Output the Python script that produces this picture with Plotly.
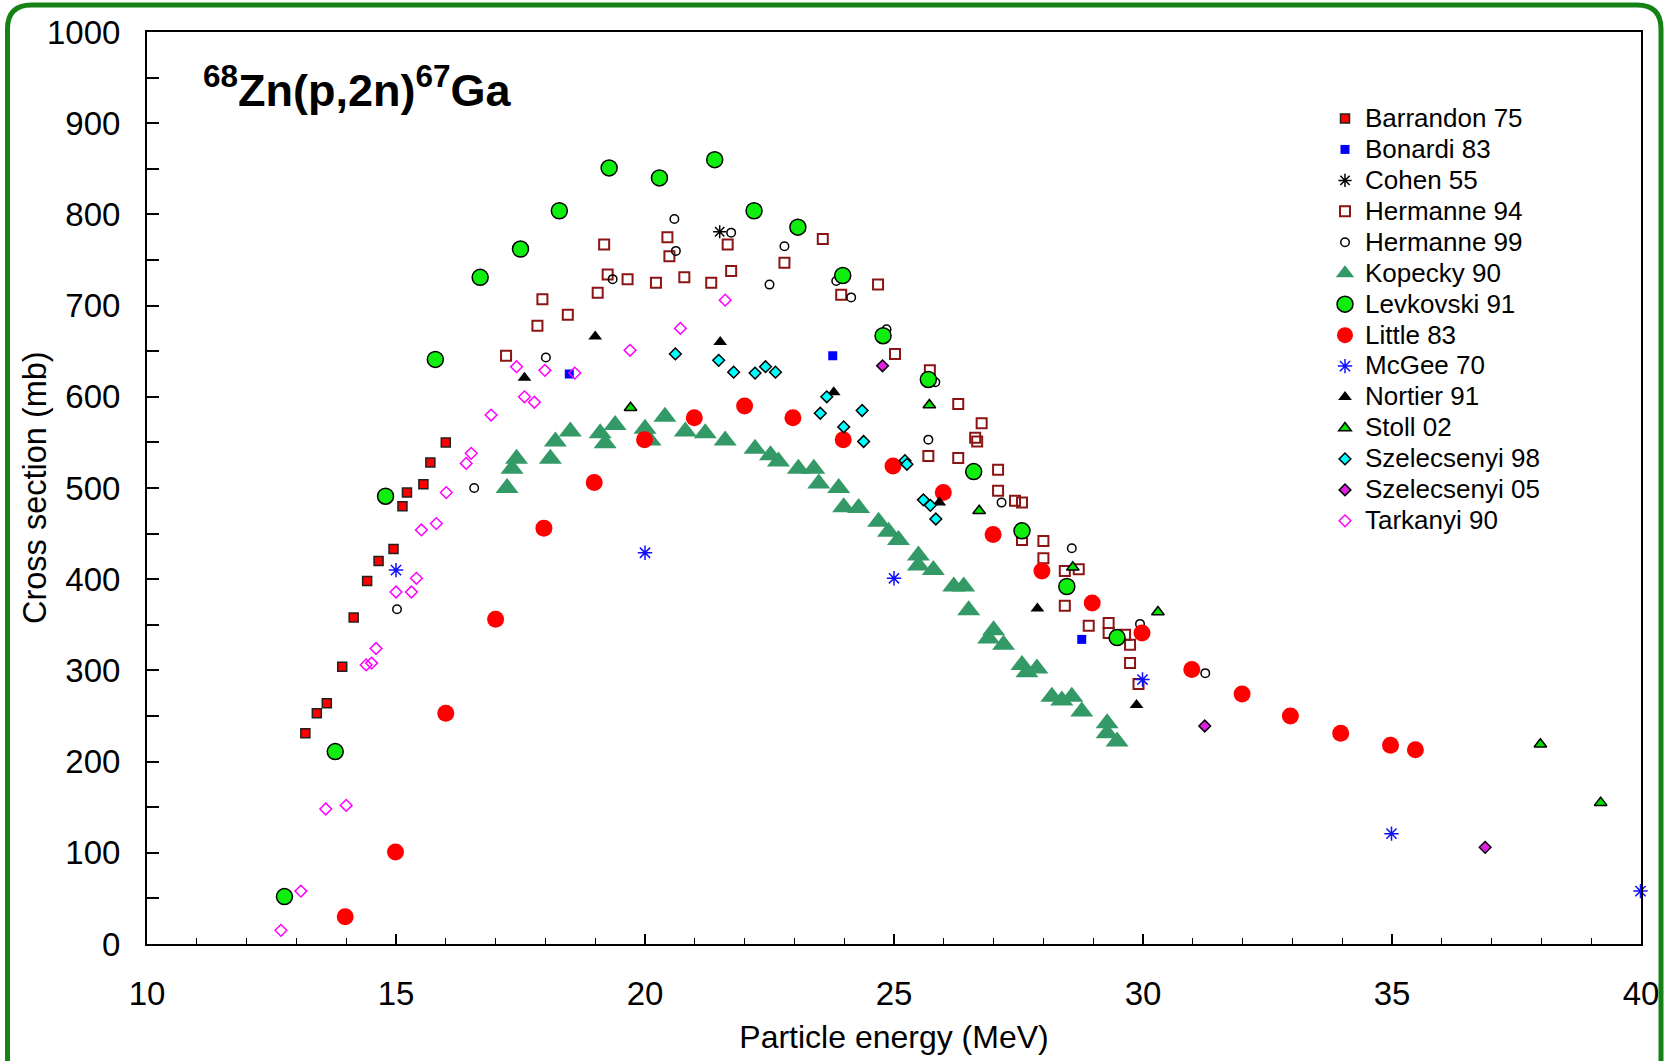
import plotly.graph_objects as go

# ---------------- data ----------------
barrandon_E = [13.18, 13.41, 13.61, 13.92, 14.15, 14.42, 14.65, 14.95, 15.13, 15.22, 15.55, 15.69, 16.0]
barrandon_xs = [231, 253, 264, 304, 358, 398, 420, 433, 480, 495, 504, 528, 550]

bonardi_E = [18.48, 23.77, 28.77]
bonardi_xs = [625, 645, 334]

cohen_E = [21.5]
cohen_xs = [781]

hermanne94_E = [17.21, 17.84, 17.94, 18.45, 19.05, 19.18, 19.25, 19.65, 20.22, 20.45, 20.49, 20.79,
                21.33, 21.66, 21.73, 22.80, 23.57, 23.94, 24.68, 25.02, 25.69, 25.72, 26.29, 26.29,
                26.63, 26.67, 26.76, 27.09, 27.09, 27.43, 27.57, 27.57, 28.0, 28.0, 28.43, 28.43,
                28.71, 28.91, 29.31, 29.31, 29.64, 29.74, 29.74, 29.91]
hermanne94_xs = [645, 678, 707, 690, 714, 767, 734, 729, 725, 775, 754, 731,
                 725, 767, 738, 747, 773, 712, 723, 647, 535, 629, 592, 533,
                 555, 551, 571, 520, 497, 486, 484, 443, 442, 423, 409, 371,
                 411, 349, 352, 341, 339, 328, 308, 285]

hermanne99_E = [15.02, 16.57, 18.01, 19.35, 20.59, 20.62, 21.73, 22.5, 22.8, 23.84, 24.14, 24.85,
                25.69, 25.83, 27.16, 28.57, 29.94, 31.25]
hermanne99_xs = [367, 500, 643, 729, 795, 760, 780, 723, 765, 727, 709, 674,
                 553, 616, 484, 434, 351, 297]

kopecky_E = [17.23, 17.33, 17.42, 18.1, 18.2, 18.5, 19.1, 19.2, 19.4, 20.0, 20.1, 20.4, 20.81, 21.21,
             21.61, 22.21, 22.52, 22.68, 23.08, 23.39, 23.49, 23.89, 23.99, 24.29, 24.69, 24.89,
             25.09, 25.49, 25.49, 25.79, 26.2, 26.4, 26.5, 26.9, 27.0, 27.2, 27.57, 27.67, 27.87,
             28.17, 28.37, 28.57, 28.77, 29.28, 29.28, 29.48]
kopecky_xs = [500, 521, 532, 532, 551, 562, 560, 549, 569, 565, 552, 578, 562, 560,
              552, 543, 536, 529, 521, 521, 505, 500, 479, 478, 463, 452,
              443, 426, 415, 410, 392, 392, 366, 335, 344, 328, 306, 298, 302,
              271, 267, 271, 255, 242, 231, 222]

levkovski_E = [12.76, 13.78, 14.79, 15.79, 16.69, 17.5, 18.28, 19.28, 20.29, 21.4, 22.19, 23.07,
               23.97, 24.78, 25.69, 26.6, 27.57, 28.47, 29.48]
levkovski_xs = [52, 211, 491, 641, 731, 762, 804, 851, 840, 860, 804, 786,
                733, 667, 619, 518, 453, 392, 336]

little_E = [13.98, 14.99, 16.0, 17.0, 17.97, 18.98, 19.99, 20.99, 22.0, 22.97, 23.98, 24.98,
            25.99, 26.99, 27.97, 28.98, 29.98, 30.98, 31.99, 32.96, 33.97, 34.97, 35.47]
little_xs = [30, 101, 253, 356, 456, 506, 553, 577, 590, 577, 553, 524,
             495, 449, 409, 374, 341, 301, 274, 250, 231, 218, 213]

mcgee_E = [15.0, 20.0, 25.0, 29.99, 34.99, 39.99]
mcgee_xs = [410, 429, 401, 290, 121, 58]

nortier_E = [17.58, 19.0, 21.51, 23.79, 25.91, 27.88, 29.87]
nortier_xs = [621, 666, 660, 605, 484, 368, 262]

stoll_E = [19.71, 25.71, 26.71, 28.59, 30.3, 37.98, 39.19]
stoll_xs = [588, 591, 475, 413, 364, 219, 155]

szel98_E = [20.61, 21.48, 21.78, 22.21, 22.42, 22.62, 23.52, 23.65, 23.99, 24.36, 24.39, 25.22,
            25.26, 25.59, 25.73, 25.84]
szel98_xs = [647, 640, 627, 626, 633, 627, 582, 600, 567, 585, 551, 530,
             526, 487, 481, 466]

szel05_E = [24.77, 31.24, 36.87]
szel05_xs = [634, 239, 106]

tarkanyi_E = [12.69, 13.09, 13.59, 14.0, 14.4, 14.51, 14.6, 15.0, 15.31, 15.41, 15.51, 15.81,
              16.01, 16.41, 16.51, 16.91, 17.42, 17.58, 17.78, 17.99, 18.59, 19.7, 20.71, 21.61]
tarkanyi_xs = [15, 58, 148, 152, 306, 308, 324, 386, 386, 401, 454, 461,
               495, 527, 538, 580, 633, 600, 594, 629, 626, 651, 675, 706]

x_ticks = [10, 15, 20, 25, 30, 35, 40]
y_ticks = [0, 100, 200, 300, 400, 500, 600, 700, 800, 900, 1000]

FONT = "Liberation Sans, Arial, sans-serif"

series = [
    ("Barrandon 75", barrandon_E, barrandon_xs,
     dict(symbol="square", size=9, color="#FF0000", line=dict(color="#202020", width=1.5))),
    ("Bonardi 83", bonardi_E, bonardi_xs,
     dict(symbol="square", size=9, color="#0000FF", line=dict(width=0))),
    ("Cohen 55", cohen_E, cohen_xs,
     dict(symbol="asterisk-open", size=11, color="#000000", line=dict(color="#000000", width=1.5))),
    ("Hermanne 94", hermanne94_E, hermanne94_xs,
     dict(symbol="square-open", size=10, color="#8B1414", line=dict(color="#8B1414", width=2))),
    ("Hermanne 99", hermanne99_E, hermanne99_xs,
     dict(symbol="circle-open", size=8.5, color="#000000", line=dict(color="#000000", width=1.5))),
    ("Kopecky 90", kopecky_E, kopecky_xs,
     dict(symbol="triangle-up", size=20, color="#339966", line=dict(width=0))),
    ("Levkovski 91", levkovski_E, levkovski_xs,
     dict(symbol="circle", size=16, color="#10EE10", line=dict(color="#000000", width=1.5))),
    ("Little 83", little_E, little_xs,
     dict(symbol="circle", size=17, color="#FF0000", line=dict(width=0))),
    ("McGee 70", mcgee_E, mcgee_xs,
     dict(symbol="asterisk-open", size=12, color="#1010FF", line=dict(color="#1010FF", width=1.5))),
    ("Nortier 91", nortier_E, nortier_xs,
     dict(symbol="triangle-up", size=12, color="#000000", line=dict(width=0))),
    ("Stoll 02", stoll_E, stoll_xs,
     dict(symbol="triangle-up", size=11, color="#00E000", line=dict(color="#000000", width=1.5))),
    ("Szelecsenyi 98", szel98_E, szel98_xs,
     dict(symbol="diamond", size=9, color="#00FFFF", line=dict(color="#000000", width=1.5))),
    ("Szelecsenyi 05", szel05_E, szel05_xs,
     dict(symbol="diamond", size=9, color="#E020E0", line=dict(color="#000000", width=1.5))),
    ("Tarkanyi 90", tarkanyi_E, tarkanyi_xs,
     dict(symbol="diamond-open", size=9, color="#FF00FF", line=dict(color="#FF00FF", width=1.5))),
]

fig = go.Figure()
for name, ex, ys, marker in series:
    fig.add_trace(go.Scatter(
        x=ex, y=ys, mode="markers",
        name=f'<span style="font-size:26px">{name}</span>',
        marker=marker, cliponaxis=False))

W, H = 1675, 1061
ML, MR, MT, MB = 147, 34, 32, 117
PW, PH = W - ML - MR, H - MT - MB


def px_to_paper(px, py):
    return (px - ML) / PW, (H - MB - py) / PH


# rounded green frame around the whole chart
left, right, top, bottom, rad = 7.5, 1661, 5, 1110, 24
x0, y0 = px_to_paper(left, bottom)
x1, y1 = px_to_paper(left, top + rad)
xc, yc = px_to_paper(left, top)
x2, y2 = px_to_paper(left + rad, top)
x3, y3 = px_to_paper(right - rad, top)
xc2, yc2 = px_to_paper(right, top)
x4, y4 = px_to_paper(right, top + rad)
x5, y5 = px_to_paper(right, bottom)
frame_path = (f"M {x0},{y0} L {x1},{y1} Q {xc},{yc} {x2},{y2} L {x3},{y3} "
              f"Q {xc2},{yc2} {x4},{y4} L {x5},{y5}")

fig.add_shape(type="path", path=frame_path, xref="paper", yref="paper",
              line=dict(color="#168216", width=5), layer="above")

# chart title
tx, ty = px_to_paper(201, 118)
fig.add_annotation(text="<b><sup>68</sup>Zn(p,2n)<sup>67</sup>Ga</b>", x=tx, y=ty,
                   xref="paper", yref="paper", xanchor="left", yanchor="bottom",
                   showarrow=False, font=dict(family=FONT, size=45, color="black"))

# y axis title (placed to match reference position)
yx, _ = px_to_paper(35, 0)
fig.add_annotation(text="Cross section (mb)", x=yx, y=0.5, xref="paper", yref="paper",
                   xanchor="center", yanchor="middle", textangle=-90, showarrow=False,
                   font=dict(family=FONT, size=32.5, color="black"))

lx, ly = px_to_paper(1325, 98)

fig.update_layout(
    width=W, height=H,
    margin=dict(l=ML, r=MR, t=MT, b=MB),
    paper_bgcolor="white", plot_bgcolor="white",
    font=dict(family=FONT, color="black"),
    showlegend=True,
    legend=dict(x=lx, y=ly, xanchor="left", yanchor="top", bgcolor="rgba(0,0,0,0)",
                font=dict(family=FONT, size=21.5, color="black"), tracegroupgap=0,
                borderwidth=0),
    xaxis=dict(
        range=[10, 40], tickvals=x_ticks, ticktext=[str(v) for v in x_ticks],
        ticks="inside", ticklen=10, tickwidth=1.5, tickcolor="black",
        minor=dict(dtick=1, ticks="inside", ticklen=6.5, tickwidth=1.2, tickcolor="black", showgrid=False),
        showline=True, linecolor="black", linewidth=2, mirror=True,
        showgrid=False, zeroline=False,
        tickfont=dict(family=FONT, size=33, color="black"), ticklabelstandoff=19,
        title=dict(text="Particle energy (MeV)", font=dict(family=FONT, size=32, color="black"), standoff=15),
    ),
    yaxis=dict(
        range=[0, 1000], tickvals=y_ticks, ticktext=[str(v) for v in y_ticks],
        ticks="inside", ticklen=12, tickwidth=1.5, tickcolor="black",
        minor=dict(dtick=50, ticks="inside", ticklen=12, tickwidth=1.5, tickcolor="black", showgrid=False),
        showline=True, linecolor="black", linewidth=2, mirror=True,
        showgrid=False, zeroline=False,
        tickfont=dict(family=FONT, size=33, color="black"), ticklabelstandoff=18,
    ),
)

fig.write_html("out.html", config={"displayModeBar": False},
               post_script="document.body.style.margin='0';")
